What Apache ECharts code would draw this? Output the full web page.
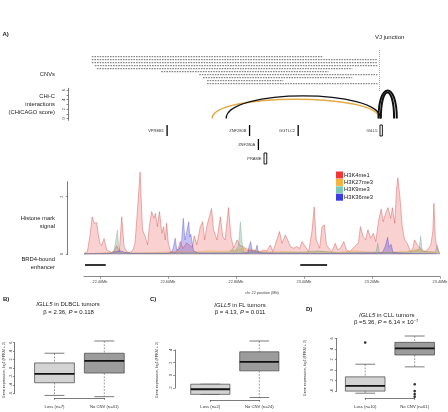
<!DOCTYPE html>
<html>
<head>
<meta charset="utf-8">
<title>IGLL5 CNV figure</title>
<script src="https://cdn.jsdelivr.net/npm/echarts@6/dist/echarts.min.js"></script>
<style>
  html, body { margin: 0; padding: 0; background: #fff; }
  #main { width: 448px; height: 412px; }
</style>
</head>
<body>
<div id="main"></div>
<script>
// ---- values ----
var posTicks = [22.4, 22.6, 22.8, 23.0, 23.2, 23.4];
var vjJunction = 23.216;

// CNV losses (Mb), top to bottom
var cnvStart = [22.376, 22.376, 22.376, 22.385, 22.391, 22.580, 22.692, 22.703, 22.715, 22.715];
var cnvEnd   = [23.057, 23.216, 23.216, 23.216, 23.142, 23.072, 23.216, 23.142, 22.939, 23.216];

// CHi-C interactions: bait/other end (Mb) and CHiCAGO score
var chicStart = [22.730, 22.771, 23.219, 23.226];
var chicEnd   = [23.222, 23.225, 23.273, 23.265];
var chicScore = [4.07, 4.78, 5.95, 5.5];

// genes: name, start, end (Mb), track row
var geneNames = ['VPREB1', 'ZNF280B', 'GGTLC2', 'IGLL5', 'ZNF280A', 'PRAME'];
var geneStart = [22.5955, 22.838, 22.981, 23.2235, 22.864, 22.8825];
var geneEnd   = [22.597, 22.8395, 22.9825, 23.2305, 22.8655, 22.8905];
var geneRow   = [1, 1, 1, 1, 2, 3];

// histone mark signal [position Mb, signal]
var markNames = ['H3K4me1', 'H3K27me3', 'H3K9me3', 'H3K36me3'];
var k4me1 = [[22.353,0.03],[22.363,0.09],[22.370,0.6],[22.377,1.30],[22.383,1.08],[22.390,1.10],[22.395,0.7],[22.400,0.38],[22.405,0.3],[22.412,0.55],[22.420,0.15],[22.434,0.06],[22.443,0.15],[22.449,0.30],[22.457,0.10],[22.464,1.30],[22.471,0.25],[22.480,0.08],[22.488,0.06],[22.497,0.15],[22.503,0.38],[22.511,1.65],[22.518,2.85],[22.525,0.85],[22.533,0.62],[22.540,0.33],[22.545,0.96],[22.552,1.48],[22.559,1.25],[22.563,1.42],[22.569,0.96],[22.575,1.48],[22.582,0.73],[22.587,0.96],[22.592,0.50],[22.596,1.08],[22.601,0.38],[22.608,0.10],[22.621,0.05],[22.630,0.2],[22.636,0.45],[22.644,0.2],[22.655,0.4],[22.665,0.3],[22.672,0.25],[22.677,0.64],[22.685,0.33],[22.695,0.96],[22.702,1.13],[22.708,0.50],[22.714,0.96],[22.722,1.32],[22.728,1.59],[22.734,0.85],[22.744,0.50],[22.754,1.30],[22.761,0.62],[22.768,0.50],[22.778,1.62],[22.785,0.62],[22.793,0.21],[22.803,0.50],[22.812,0.30],[22.822,0.26],[22.832,0.15],[22.842,0.12],[22.852,0.15],[22.862,0.1],[22.871,0.09],[22.881,0.15],[22.891,0.12],[22.901,0.32],[22.909,0.09],[22.920,0.50],[22.928,0.79],[22.935,0.38],[22.945,0.67],[22.952,0.50],[22.960,0.27],[22.970,0.21],[22.979,0.27],[22.987,0.2],[22.994,0.44],[23.004,0.27],[23.014,0.09],[23.024,0.85],[23.030,1.64],[23.036,0.50],[23.046,0.21],[23.053,0.96],[23.060,1.02],[23.066,0.33],[23.073,0.21],[23.082,0.09],[23.092,0.38],[23.099,0.15],[23.107,0.21],[23.117,0.44],[23.125,0.15],[23.135,0.09],[23.144,0.21],[23.154,0.32],[23.160,0.4],[23.166,0.96],[23.174,0.62],[23.181,0.50],[23.188,0.85],[23.196,0.56],[23.204,0.73],[23.211,0.44],[23.220,1.20],[23.227,1.57],[23.233,1.13],[23.240,1.42],[23.247,1.62],[23.255,1.25],[23.260,1.62],[23.267,1.08],[23.272,2.23],[23.276,2.66],[23.282,2.00],[23.289,0.96],[23.296,0.50],[23.304,0.38],[23.313,0.09],[23.320,0.2],[23.325,0.50],[23.333,0.33],[23.343,0.21],[23.353,0.09],[23.363,0.15],[23.373,0.32],[23.379,0.8],[23.382,1.77],[23.386,0.6],[23.390,0.27],[23.397,0.09],[23.400,0.05]];
var k27me3 = [[22.353,0.02],[22.400,0.04],[22.450,0.08],[22.500,0.04],[22.560,0.06],[22.620,0.1],[22.680,0.08],[22.720,0.12],[22.760,0.1],[22.800,0.15],[22.830,0.22],[22.860,0.12],[22.900,0.08],[22.950,0.1],[23.000,0.06],[23.050,0.1],[23.100,0.07],[23.150,0.12],[23.200,0.06],[23.260,0.08],[23.300,0.1],[23.335,0.18],[23.360,0.1],[23.400,0.04]];
var k9me3 = [[22.353,0.02],[22.440,0.04],[22.446,0.45],[22.451,0.84],[22.455,0.3],[22.460,0.05],[22.560,0.04],[22.700,0.05],[22.780,0.06],[22.790,0.2],[22.795,0.06],[22.807,0.3],[22.813,1.13],[22.818,0.4],[22.823,0.08],[22.900,0.05],[23.000,0.08],[23.040,0.12],[23.100,0.05],[23.212,0.08],[23.217,0.38],[23.222,0.06],[23.300,0.06],[23.338,0.15],[23.343,0.64],[23.348,0.1],[23.386,0.08],[23.392,0.33],[23.397,0.05],[23.400,0.02]];
var k36me3 = [[22.353,0.02],[22.430,0.03],[22.440,0.08],[22.450,0.1],[22.460,0.12],[22.470,0.08],[22.490,0.03],[22.600,0.03],[22.612,0.08],[22.617,0.3],[22.621,0.56],[22.626,0.15],[22.634,0.2],[22.640,0.45],[22.645,1.25],[22.650,0.5],[22.655,0.55],[22.658,0.95],[22.661,1.13],[22.664,0.6],[22.667,0.7],[22.671,0.67],[22.675,0.12],[22.690,0.04],[22.800,0.03],[22.835,0.05],[22.839,0.3],[22.843,0.44],[22.848,0.1],[22.858,0.12],[22.862,0.32],[22.866,0.05],[22.950,0.03],[23.100,0.03],[23.230,0.05],[23.238,0.25],[23.243,0.45],[23.246,0.59],[23.250,0.25],[23.256,0.35],[23.262,0.06],[23.300,0.03],[23.400,0.02]];

// BRD4-bound enhancers (Mb)
var brd4Start = [22.356, 22.989];
var brd4End   = [22.417, 23.068];

// expression boxplots: [lower whisker, Q1, median, Q3, upper whisker]
var groups = ['Loss', 'No CNV'];
var dlbclN = [7, 41];
var dlbclStats = [[-6.5, -3.5, -1.4, 1.2, 3.5], [-6.8, -1.2, 1.7, 3.5, 6.4]];
var flN = [2, 24];
var flStats = [[-3.0, -3.0, -2.2, -1.4, -1.4], [-3.5, 0.7, 2.1, 3.7, 5.4]];
var cllN = [10, 61];
var cllStats = [[-4.4, -4.0, -3.0, -1.3, 1.1], [0.6, 2.85, 4.1, 5.25, 6.45]];
var cllOutGroup = [1, 2, 2, 2, 2];
var cllOutValue = [5.2, -2.7, -4.0, -4.55, -5.05];

// ---- styling ----
var FONT = 'Liberation Sans';
var X0 = 22.353, X1 = 23.40;
var markColors = ['#f23434', '#f5b23c', '#7fc8b3', '#3b3be6'];
var markFills = ['rgba(235,100,100,0.42)', 'rgba(240,170,50,0.38)', 'rgba(110,165,135,0.5)', 'rgba(70,60,220,0.45)'];
var markLines = ['rgba(210,65,65,0.8)', 'rgba(230,160,40,0.6)', 'rgba(100,150,120,0.6)', 'rgba(70,60,200,0.7)'];
var arcColors = ['#e3ab43', '#111', '#111', '#111'];
var arcWidths = [1.5, 1.3, 2, 2];
var boxFills = ['#d3d3d3', '#9c9c9c'];

var chart = echarts.init(document.getElementById('main'));

function hiddenX(g) { return {type: 'value', gridIndex: g, min: X0, max: X1, show: false}; }
function hiddenY(g, min, max, inv) { return {type: 'value', gridIndex: g, min: min, max: max, inverse: !!inv, show: false}; }
function sideY(g, min, max, offset, ticks, labels, margin) {
  return {type: 'value', gridIndex: g, min: min, max: max, offset: offset,
    axisLine: {show: true, onZero: false, lineStyle: {color: '#444', width: 0.7}},
    axisTick: {show: true, length: 1.8, customValues: ticks, lineStyle: {color: '#444', width: 0.6}},
    axisLabel: {customValues: labels, rotate: 90, fontSize: 3.8, color: '#333', margin: margin, fontFamily: FONT},
    splitLine: {show: false}};
}
function groupX(g, offset, n, margin) {
  return {type: 'value', gridIndex: g, min: 1, max: 2, offset: offset,
    axisLine: {show: true, onZero: false, lineStyle: {color: '#444', width: 0.7}},
    axisTick: {show: true, length: 1.8, customValues: [1, 2], lineStyle: {color: '#444', width: 0.6}},
    axisLabel: {customValues: [1, 2], fontSize: 4.2, color: '#333', margin: margin, fontFamily: FONT,
      formatter: function (v) { var i = Math.round(v) - 1; return groups[i] + ' (n=' + n[i] + ')'; }},
    splitLine: {show: false}};
}
function boxData(stats) {
  return stats.map(function (s, i) { return [i + 1].concat(s); });
}
function boxItem(params, api) {
  var x = api.value(0);
  var lo = api.coord([x, api.value(1)]), q1 = api.coord([x, api.value(2)]),
      md = api.coord([x, api.value(3)]), q3 = api.coord([x, api.value(4)]),
      hi = api.coord([x, api.value(5)]);
  var w = api.size([1, 0])[0] * 0.8, cx = lo[0];
  var dash = {stroke: '#555', lineWidth: 0.6, lineDash: [1.8, 1.4], fill: null};
  var solid = {stroke: '#444', lineWidth: 0.7, fill: null};
  return {type: 'group', children: [
    {type: 'line', shape: {x1: cx, y1: hi[1], x2: cx, y2: q3[1]}, style: dash},
    {type: 'line', shape: {x1: cx, y1: q1[1], x2: cx, y2: lo[1]}, style: dash},
    {type: 'line', shape: {x1: cx - w / 4, y1: hi[1], x2: cx + w / 4, y2: hi[1]}, style: solid},
    {type: 'line', shape: {x1: cx - w / 4, y1: lo[1], x2: cx + w / 4, y2: lo[1]}, style: solid},
    {type: 'rect', shape: {x: cx - w / 2, y: q3[1], width: w, height: q1[1] - q3[1]},
      style: {fill: boxFills[params.dataIndex], stroke: '#444', lineWidth: 0.7}},
    {type: 'line', shape: {x1: cx - w / 2, y1: md[1], x2: cx + w / 2, y2: md[1]}, style: {stroke: '#111', lineWidth: 1.8}}
  ]};
}
function segItem(color, width, dash) {
  return function (params, api) {
    var a = api.coord([api.value(0), api.value(2)]);
    var b = api.coord([api.value(1), api.value(2)]);
    return {type: 'line', shape: {x1: a[0], y1: a[1], x2: b[0], y2: b[1]},
      style: {stroke: color, lineWidth: width, lineDash: dash || null}};
  };
}
function arcItem(params, api) {
  var a = api.coord([api.value(0), 0]);
  var b = api.coord([api.value(1), 0]);
  var top = api.coord([api.value(0), api.value(2)])[1];
  var cy = a[1] + (top - a[1]) * 4 / 3;
  var i = params.dataIndex;
  return {type: 'bezierCurve',
    shape: {x1: a[0], y1: a[1], x2: b[0], y2: b[1], cpx1: a[0], cpy1: cy, cpx2: b[0], cpy2: cy},
    style: {stroke: arcColors[i], lineWidth: arcWidths[i], fill: null}};
}
function geneItem(params, api) {
  var s = api.coord([api.value(0), api.value(2)]);
  var e = api.coord([api.value(1), api.value(2)]);
  var wide = e[0] - s[0] > 2;
  var w = Math.max(e[0] - s[0], 1.3), h = 11;
  return {type: 'group', children: [
    {type: 'rect', shape: {x: s[0], y: s[1] - h / 2, width: w, height: h},
      style: wide ? {fill: '#fff', stroke: '#000', lineWidth: 0.9} : {fill: '#000'}},
    {type: 'text', style: {text: geneNames[params.dataIndex], x: s[0] - 2.5, y: s[1],
      align: 'right', textAlign: 'right', verticalAlign: 'middle', textVerticalAlign: 'middle',
      fontSize: 4, fontFamily: FONT, fill: '#333'}}
  ]};
}

var rich6 = {
  n: {fontSize: 6, fontFamily: FONT, fill: '#1a1a1a', lineHeight: 7},
  i: {fontSize: 6, fontFamily: FONT, fontStyle: 'italic', fill: '#1a1a1a', lineHeight: 7},
  s: {fontSize: 3.8, fontFamily: FONT, fill: '#1a1a1a', verticalAlign: 'top', lineHeight: 4}
};
var richY = {
  n: {fontSize: 3.7, fontFamily: FONT, fill: '#333'},
  b: {fontSize: 2.8, fontFamily: FONT, fill: '#333', verticalAlign: 'bottom', lineHeight: 3}
};
function txt(x, y, text, o) {
  o = o || {};
  var al = o.align || 'left';
  return {type: 'text', x: x, y: y, rotation: o.rot || 0, silent: true,
    style: {text: text, x: 0, y: 0, fill: '#1a1a1a', fontSize: o.size || 5.8, fontFamily: FONT,
      fontWeight: o.bold ? 'bold' : 'normal', align: al, textAlign: al,
      verticalAlign: 'middle', textVerticalAlign: 'middle', rich: o.rich}};
}

var option = {
  animation: false,
  backgroundColor: '#fff',
  textStyle: {fontFamily: FONT},
  grid: [
    {left: 84, right: 8, top: 50, height: 42, outerBoundsMode: 'none'},
    {left: 84, right: 8, top: 88.3, height: 32.1, outerBoundsMode: 'none'},
    {left: 84, right: 8, top: 122, height: 44, outerBoundsMode: 'none'},
    {left: 84, right: 8, top: 181.7, height: 72.6, outerBoundsMode: 'none'},
    {left: 84, right: 8, top: 261, height: 8, outerBoundsMode: 'none'},
    {left: 54.5, width: 49.8, top: 342.7, height: 50.6, outerBoundsMode: 'none'},
    {left: 210.3, width: 49, top: 349.9, height: 38.1, outerBoundsMode: 'none'},
    {left: 365.2, width: 49.5, top: 338.4, height: 52.7, outerBoundsMode: 'none'}
  ],
  xAxis: [
    hiddenX(0), hiddenX(1), hiddenX(2), hiddenX(3),
    {type: 'value', gridIndex: 4, min: X0, max: X1, offset: 7.7,
      axisLine: {show: true, onZero: false, lineStyle: {color: '#555', width: 0.7}},
      axisTick: {show: true, length: 2, customValues: posTicks, lineStyle: {color: '#555', width: 0.6}},
      axisLabel: {customValues: posTicks, fontSize: 3.8, color: '#444', margin: 3.5, fontFamily: FONT,
        formatter: function (v) { return v.toFixed(2) + 'Mb'; }},
      splitLine: {show: false},
      name: 'chr 22 position (Mb)', nameLocation: 'middle', nameGap: 14,
      nameTextStyle: {fontSize: 3.8, color: '#444', fontFamily: FONT}},
    groupX(5, 4.7, dlbclN, 6.5),
    groupX(6, 12, flN, 4.6),
    groupX(7, 7.2, cllN, 6.3)
  ],
  yAxis: [
    hiddenY(0, -1.23, 12.77, true),
    sideY(1, -0.4, 6.4, 15.7, [0, 1, 2, 3, 4, 5, 6], [0, 2, 4, 6], 2.2),
    hiddenY(2, 0.393, 3.536, true),
    sideY(3, 0, 2.52, 16.3, [0, 2], [0, 2], 4),
    hiddenY(4, 0, 1),
    sideY(5, -6, 6, 39.8, [-6, -4, -2, 0, 2, 4, 6], [-6, -4, -2, 0, 2, 4, 6], 1.8),
    sideY(6, -2, 4, 35.3, [-2, 0, 2, 4], [-2, 0, 2, 4], 2.2),
    sideY(7, -4, 6, 28.5, [-4, -2, 0, 2, 4, 6], [-4, -2, 0, 2, 4, 6], 2.8)
  ],
  legend: {
    data: markNames.map(function (n, i) { return {name: n, itemStyle: {color: markColors[i], borderWidth: 0}}; }),
    orient: 'vertical', left: 331, top: 166.5, itemWidth: 7, itemHeight: 7, itemGap: 0.4,
    icon: 'rect', selectedMode: false,
    textStyle: {fontSize: 5.8, color: '#222', lineHeight: 7, fontFamily: FONT, padding: [0, 0, 0, -4]}
  },
  series: [
    {type: 'custom', name: 'CNV', xAxisIndex: 0, yAxisIndex: 0, renderItem: segItem('#444', 0.8, [1.6, 1]),
      data: cnvStart.map(function (s, i) { return [s, cnvEnd[i], i + 1]; })},
    {type: 'line', name: 'VJ', xAxisIndex: 0, yAxisIndex: 0, data: [],
      markLine: {silent: true, symbol: 'none', label: {show: false},
        lineStyle: {color: '#aaa', type: [1, 1], width: 1}, data: [{xAxis: vjJunction}]}},
    {type: 'custom', name: 'CHi-C', xAxisIndex: 1, yAxisIndex: 1, renderItem: arcItem,
      data: chicStart.map(function (s, i) { return [s, chicEnd[i], chicScore[i]]; })},
    {type: 'custom', name: 'genes', xAxisIndex: 2, yAxisIndex: 2, renderItem: geneItem,
      data: geneStart.map(function (s, i) { return [s, geneEnd[i], geneRow[i]]; })}
  ].concat([k4me1, k27me3, k9me3, k36me3].map(function (d, i) {
    return {type: 'line', name: markNames[i], xAxisIndex: 3, yAxisIndex: 3, data: d,
      showSymbol: false, clip: false, itemStyle: {color: markColors[i]},
      lineStyle: {color: markLines[i], width: 0.5}, areaStyle: {color: markFills[i]}};
  })).concat([
    {type: 'custom', name: 'BRD4', xAxisIndex: 4, yAxisIndex: 4, renderItem: segItem('#000', 1.6),
      data: brd4Start.map(function (s, i) { return [s, brd4End[i], 0.5]; })},
    {type: 'custom', name: 'DLBCL', xAxisIndex: 5, yAxisIndex: 5, renderItem: boxItem, data: boxData(dlbclStats)},
    {type: 'custom', name: 'FL', xAxisIndex: 6, yAxisIndex: 6, renderItem: boxItem, data: boxData(flStats)},
    {type: 'custom', name: 'CLL', xAxisIndex: 7, yAxisIndex: 7, renderItem: boxItem, data: boxData(cllStats)},
    {type: 'scatter', name: 'CLL outliers', xAxisIndex: 7, yAxisIndex: 7, clip: false,
      symbolSize: 2.6, itemStyle: {color: '#000'},
      data: cllOutGroup.map(function (g, i) { return [g, cllOutValue[i]]; })}
  ]),
  graphic: [
    txt(2.5, 34.3, 'A)', {bold: true, size: 6}),
    txt(375, 37.3, 'VJ junction', {size: 6}),
    txt(55, 74, 'CNVs', {align: 'right'}),
    txt(55, 96.7, 'CHi-C', {align: 'right'}),
    txt(55, 104.3, 'interactions', {align: 'right'}),
    txt(55, 112, '(CHiCAGO score)', {align: 'right'}),
    txt(55, 218.3, 'Histone mark', {align: 'right'}),
    txt(55, 226, 'signal', {align: 'right'}),
    txt(55, 259.8, 'BRD4-bound', {align: 'right'}),
    txt(55, 267.3, 'enhancer', {align: 'right'}),
    txt(3, 299, 'B)', {bold: true, size: 6}),
    txt(150, 299, 'C)', {bold: true, size: 6}),
    txt(306, 309.3, 'D)', {bold: true, size: 6}),
    txt(68, 304.5, '{i|IGLL5}{n| in DLBCL tumors}', {align: 'center', rich: rich6}),
    txt(68.5, 312, '{n|β = 2.36, }{i|P}{n| = 0.118}', {align: 'center', rich: rich6}),
    txt(240, 305, '{i|IGLL5}{n| in FL tumors}', {align: 'center', rich: rich6}),
    txt(240, 312, '{n|β = 4.13, }{i|P}{n| = 0.011}', {align: 'center', rich: rich6}),
    txt(386.7, 315, '{i|IGLL5}{n| in CLL tumors}', {align: 'center', rich: rich6}),
    txt(386, 322, '{n|β =5.36, }{i|P}{n| = 6.14 × 10}{s|−7}', {align: 'center', rich: rich6}),
    txt(3.6, 370, '{n|Gene expression, log}{b|2}{n| (FPKM + 2)}', {rot: Math.PI / 2, align: 'center', rich: richY}),
    txt(157, 370, '{n|Gene expression, log}{b|2}{n| (FPKM + 2)}', {rot: Math.PI / 2, align: 'center', rich: richY}),
    txt(305, 368, '{n|Gene expression, log}{b|2}{n| (FPKM + 2)}', {rot: Math.PI / 2, align: 'center', rich: richY})
  ]
};

chart.setOption(option);
</script>
</body>
</html>
